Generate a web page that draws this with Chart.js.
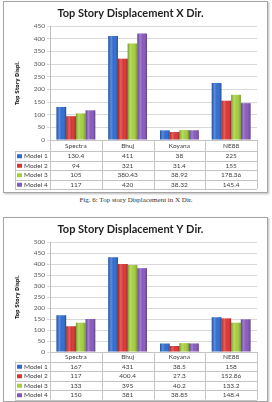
<!DOCTYPE html>
<html>
<head>
<meta charset="utf-8">
<script src="https://cdn.jsdelivr.net/npm/chart.js@4.4.0/dist/chart.umd.min.js"></script>
<style>
  html, body { margin: 0; padding: 0; background: #fff; }
  body { width: 272px; height: 402px; position: relative; overflow: hidden; }
  .frame { position: absolute; left: 3px; width: 263px; border: 1px solid #a6a6a6; box-shadow: 1px 1px 2px #bbb; background: #fff; }
  .frame canvas { display: block; }
  #f1 { top: 1px; height: 190px; }
  #f2 { top: 217px; height: 183px; }
  .cap { position: absolute; left: 0; width: 272px; top: 196px; text-align: center; font: 7px "Liberation Serif", serif; color: #333; }
</style>
</head>
<body>
<div class="frame" id="f1"><canvas id="chartX" width="263" height="190"></canvas></div>
<div class="cap">Fig. 6: Top story Displacement in X Dir.</div>
<div class="frame" id="f2"><canvas id="chartY" width="263" height="183"></canvas></div>

<script>
// ---- data ----
const categories = ['Spectra', 'Bhuj', 'Koyana', 'NE88'];
const modelNames = ['Model 1', 'Model 2', 'Model 3', 'Model 4'];
const modelColors = ['#2e6bd1', '#dd3333', '#a4cf3c', '#8658bd'];

// X direction
const xModel1 = [130.4, 411, 38, 225];
const xModel2 = [94, 321, 31.4, 155];
const xModel3 = [105, 380.43, 38.92, 178.36];
const xModel4 = [117, 420, 38.32, 145.4];

// Y direction
const yModel1 = [167, 431, 38.5, 158];
const yModel2 = [117, 400.4, 27.3, 152.86];
const yModel3 = [133, 395, 40.2, 133.2];
const yModel4 = [150, 381, 38.85, 148.4];

const TEXT = '#404040';

// cylinder-ish shading on top of the flat bars
const barShade = {
  id: 'barShade',
  afterDatasetsDraw(chart) {
    const ctx = chart.ctx;
    chart.data.datasets.forEach((ds, i) => {
      chart.getDatasetMeta(i).data.forEach(b => {
        const x0 = b.x - b.width / 2;
        const g = ctx.createLinearGradient(x0, 0, x0 + b.width, 0);
        g.addColorStop(0, 'rgba(0,0,0,0.25)');
        g.addColorStop(0.3, 'rgba(255,255,255,0.22)');
        g.addColorStop(0.55, 'rgba(255,255,255,0)');
        g.addColorStop(1, 'rgba(0,0,0,0.3)');
        ctx.fillStyle = g;
        ctx.fillRect(x0, b.y, b.width, b.base - b.y);
      });
    });
  }
};

// Excel style data table under the plot
const dataTable = {
  id: 'dataTable',
  afterDraw(chart, args, o) {
    const ctx = chart.ctx, a = chart.chartArea, xs = chart.scales.x;
    const n = categories.length, w = (a.right - a.left) / n;
    const top = a.bottom, hh = o.headerH, rh = o.rowH, left = o.left;
    const bottom = top + hh + rh * modelNames.length;
    const px = v => Math.round(v) + 0.5;

    ctx.save();
    ctx.strokeStyle = '#c4c4c4';
    ctx.lineWidth = 1;
    ctx.beginPath();
    ctx.moveTo(a.left, px(top)); ctx.lineTo(a.right, px(top));
    for (let r = 0; r <= modelNames.length; r++) {
      const y = px(top + hh + r * rh);
      ctx.moveTo(left, y); ctx.lineTo(a.right, y);
    }
    for (let i = 0; i <= n; i++) {
      const x = px(a.left + i * w);
      ctx.moveTo(x, top); ctx.lineTo(x, bottom);
    }
    ctx.moveTo(px(left), top + hh); ctx.lineTo(px(left), bottom);
    ctx.stroke();

    ctx.font = o.font;
    ctx.textBaseline = 'middle';
    ctx.textAlign = 'center';
    ctx.fillStyle = TEXT;
    categories.forEach((c, i) => ctx.fillText(c, xs.getPixelForValue(i), top + hh / 2 + 0.5));

    chart.data.datasets.forEach((ds, r) => {
      const cy = top + hh + r * rh + rh / 2 + 0.5;
      ctx.fillStyle = TEXT;
      ctx.textAlign = 'center';
      ds.data.forEach((v, i) => ctx.fillText(String(v), xs.getPixelForValue(i), cy));
      ctx.fillStyle = ds.backgroundColor;
      ctx.fillRect(left + 2, cy - 2, 5, 4);
      ctx.fillStyle = TEXT;
      ctx.textAlign = 'left';
      ctx.fillText(ds.label, left + 9, cy);
    });
    ctx.restore();
  }
};

function makeChart(id, title, series, yMax, xH, headerH) {
  return new Chart(document.getElementById(id), {
    type: 'bar',
    data: {
      labels: categories,
      datasets: series.map((d, i) => ({
        label: modelNames[i], data: d, backgroundColor: modelColors[i],
        borderWidth: 0, categoryPercentage: 0.75, barPercentage: 1
      }))
    },
    options: {
      responsive: false, animation: false, devicePixelRatio: 1,
      layout: { padding: { left: 0, right: 10, top: 0, bottom: 0 } },
      plugins: {
        legend: { display: false },
        tooltip: { enabled: false },
        title: {
          display: true, text: title, color: '#1f1f1f',
          font: { family: 'Lato', size: 11, weight: 'bold' },
          padding: { top: 5, bottom: 5.8 }
        },
        dataTable: { left: 11, headerH: headerH, rowH: 9.5, font: '6.5px Lato' }
      },
      scales: {
        x: {
          ticks: { display: false }, grid: { display: false }, border: { display: false },
          afterFit: s => { s.height = xH; }
        },
        y: {
          min: 0, max: yMax,
          ticks: { stepSize: 50, color: '#595959', font: { family: 'Lato', size: 6.5 }, padding: 2 },
          grid: { color: '#d9d9d9', tickLength: 3 },
          border: { color: '#bfbfbf' },
          title: {
            display: true, text: 'Top Story Displ.', color: '#222',
            font: { family: '"DejaVu Sans Condensed", "Liberation Sans", sans-serif', size: 5.5, weight: 'bold' },
            padding: { top: 10, bottom: 0 }
          },
          afterFit: s => { s.width = 46; }
        }
      }
    },
    plugins: [barShade, dataTable]
  });
}

makeChart('chartX', 'Top Story Displacement X Dir.', [xModel1, xModel2, xModel3, xModel4], 450, 52, 11);
makeChart('chartY', 'Top Story Displacement Y Dir.', [yModel1, yModel2, yModel3, yModel4], 500, 49, 9.5);
</script>
</body>
</html>
